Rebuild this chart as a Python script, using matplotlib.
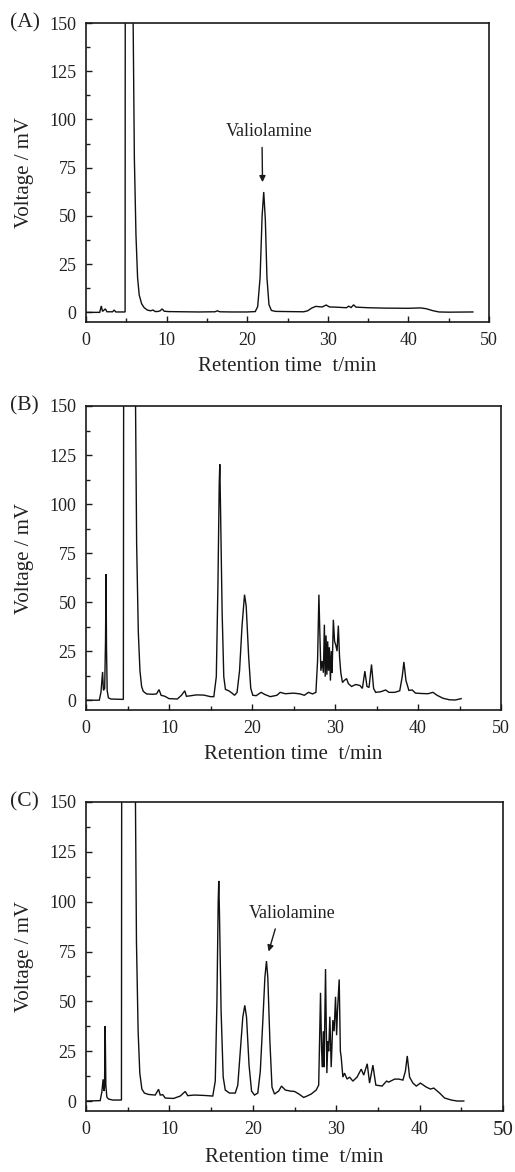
import matplotlib
matplotlib.use("Agg")
import matplotlib.pyplot as plt
from matplotlib.ticker import MultipleLocator

plt.rcParams['font.family'] = ['Liberation Serif', 'DejaVu Serif']

# Panel A chromatogram (time in min, voltage in mV); 400 marks off-scale solvent peak
tA = [0, 1.7, 1.9, 2.05, 2.4, 2.6, 3.3, 3.5, 3.7, 4.85, 4.9, 5.8, 5.85, 6.0, 6.2, 6.4, 6.6, 6.9,
      7.2, 7.6, 8.0, 8.3, 8.6, 9.0, 9.2, 9.45, 9.7, 10.2, 12, 14, 16, 16.3, 16.6, 18, 20, 21.0,
      21.3, 21.6, 21.85, 22.05, 22.25, 22.45, 22.7, 23, 23.5, 25, 27, 27.5, 28, 28.5, 29.3, 29.8,
      30.2, 31, 32.3, 32.6, 32.9, 33.2, 33.5, 35, 37, 40, 41.5, 42.2, 43, 43.8, 45, 48]
vA = [0, 0, 3.3, 0.5, 1.8, 0.3, 0.3, 1.2, 0.2, 0.2, 400, 400, 150, 80, 40, 18, 9, 4.5,
      2.5, 1.2, 0.8, 1.2, 0.4, 0.5, 0.8, 1.8, 0.6, 0.4, 0.3, 0.2, 0.3, 0.8, 0.3, 0.2, 0.2, 0.4,
      3, 18, 50, 62.4, 48, 18, 4, 1, 0.5, 0.4, 0.3, 0.8, 2.2, 3.1, 2.8, 3.8,
      2.8, 2.7, 2.4, 3.2, 2.5, 3.9, 2.7, 2.4, 2.2, 2.1, 2.3, 1.9, 0.9, 0.2, 0.1, 0.2]

# Panel B chromatogram
tB = [0, 1.6, 1.8, 2.0, 2.1, 2.25, 2.35, 2.42, 2.47, 2.55, 2.7, 3.0, 4.5, 4.59, 5.92, 5.97,
      6.1, 6.3, 6.5, 6.7, 6.9, 7.3, 8.0, 8.5, 8.8, 9.05, 9.5, 10, 11, 11.5, 11.9, 12.1, 12.5,
      13.3, 14.2, 15.0, 15.4, 15.7, 15.9, 16.05, 16.12, 16.2, 16.4, 16.6, 16.8, 17.2, 17.6,
      17.9, 18.2, 18.5, 18.8, 19.1, 19.3, 19.6, 19.85, 20.1, 20.5, 21.1, 21.5, 22.2, 23.0,
      23.4, 24.0, 25.0, 25.8, 26.3, 26.8, 27.3, 27.7, 27.9, 28.06, 28.2, 28.3, 28.45, 28.6,
      28.72, 28.82, 28.92, 29.02, 29.12, 29.22, 29.32, 29.45, 29.55, 29.65, 29.8, 29.95, 30.1,
      30.25, 30.4, 30.55, 30.7, 30.9, 31.1, 31.4, 31.6, 32.0, 32.5, 33.0, 33.3, 33.6, 33.85,
      34.1, 34.4, 34.65, 34.9, 35.5, 36.1, 36.5, 37.2, 37.8, 38.1, 38.3, 38.55, 38.9, 39.3,
      39.7, 40.5, 41.2, 41.8, 42.3, 43.0, 43.8, 44.5, 45.2]
vB = [0, 0, 4, 14.4, 5, 6, 30, 64.3, 27, 5, 1.2, 0.6, 0.4, 400, 400, 150,
      80, 35, 15, 7, 4.5, 3.2, 3, 3.2, 5.4, 2.5, 2, 0.8, 0.6, 2.5, 4.8, 2, 2.2,
      2.7, 2.6, 1.8, 1.8, 12, 60, 110, 120.3, 100, 45, 12, 5.5, 4.8, 3.6,
      2.5, 4, 15, 38, 53.8, 48, 22, 6, 2.5, 2.3, 4, 3, 1.8, 2.5,
      4, 3.3, 3.6, 3.2, 2.5, 4, 3.2, 4, 20, 53.8, 30, 15, 20, 14,
      38.5, 12, 33, 13, 30, 15, 27, 10, 25, 14, 41, 30, 28,
      25, 38, 22, 14, 9, 10, 11, 8.5, 7, 8, 7.5, 6, 14.8, 7,
      6.5, 18.2, 6, 4, 4.3, 5.2, 4, 4, 4.8, 12, 19.5, 10, 5, 5.2,
      3.6, 3.4, 3.3, 4, 2.5, 1, 0.2, 0.1, 0.8]

# Panel C chromatogram
tC = [0, 1.7, 1.9, 2.05, 2.15, 2.22, 2.3, 2.38, 2.5, 2.7, 3.2, 4.25, 4.32, 5.88, 5.93, 6.05,
      6.25, 6.45, 6.7, 7.0, 7.5, 8.3, 8.7, 8.9, 9.2, 9.5, 10.5, 11.3, 11.9, 12.2, 13, 14.2,
      15.2, 15.5, 15.7, 15.85, 15.92, 16.0, 16.2, 16.45, 16.7, 17.2, 17.9, 18.2, 18.5, 18.8,
      19.04, 19.25, 19.55, 19.85, 20.2, 20.6, 20.9, 21.2, 21.45, 21.64, 21.8, 22.05, 22.3,
      22.6, 23.1, 23.44, 23.9, 24.5, 25.0, 25.5, 26.1, 26.5, 27.0, 27.6, 27.9, 28.12, 28.25,
      28.35, 28.45, 28.55, 28.72, 28.88, 29.0, 29.1, 29.24, 29.4, 29.6, 29.75, 29.92, 30.05,
      30.15, 30.36, 30.5, 30.6, 30.8, 31.0, 31.3, 31.6, 32.0, 32.5, 33.0, 33.3, 33.72, 34.0,
      34.4, 34.75, 35.5, 36.04, 36.3, 37.0, 37.5, 38.0, 38.3, 38.52, 38.8, 39.2, 39.6, 40.1,
      40.8, 41.3, 41.7, 42.4, 43.0, 43.8, 44.5, 45.3]
vC = [0, 0.2, 4.5, 10.9, 5, 7, 37.6, 8, 2, 1, 0.5, 0.5, 400, 400, 150, 80,
      35, 14, 6, 4, 3.3, 3, 5.9, 3, 3.2, 1.5, 1.3, 2.5, 4.8, 2.7, 3, 2.8,
      2.5, 10, 50, 100, 110.4, 95, 45, 12, 5.5, 4, 4, 8, 25, 42,
      48, 42, 18, 5, 3, 4, 15, 40, 62, 70.2, 62, 30, 7,
      3.5, 5, 7.5, 5.5, 5, 4.8, 3.6, 1.8, 2.5, 3.5, 5.5, 8, 54.3, 25,
      17, 35, 17, 66.2, 14, 30, 25, 42.3, 17, 40.6, 35, 52.3, 33,
      45, 61, 25, 22, 12, 14, 11, 12, 10, 12, 16, 13, 18.7, 9,
      18, 8, 7.5, 10, 9.5, 11, 11, 10.5, 15, 22.6, 12, 9, 7.5, 9,
      7, 6, 6.5, 4, 1.5, 0.5, 0, 0]

panel_labels = ["(A)", "(B)", "(C)"]
x_label = "Retention time  t/min"
y_label = "Voltage / mV"
peak_name = "Valiolamine"
x_ticks = [0, 10, 20, 30, 40, 50]
y_ticks = [0, 25, 50, 75, 100, 125, 150]

W, H = 515, 1172
fig = plt.figure(figsize=(W / 100, H / 100), dpi=100)

# axes boxes in pixels: left, right, top, bottom
boxes = [(86, 489, 23, 322), (86, 501, 406, 710), (86, 503, 802, 1111)]
series = [(tA, vA), (tB, vB), (tC, vC)]

axes = []
for i, ((l, r, t, b), (tt, vv)) in enumerate(zip(boxes, series)):
    ax = fig.add_axes([l / W, 1 - b / H, (r - l) / W, (b - t) / H])
    ax.plot(tt, vv, color='#111111', lw=1.0, solid_joinstyle='miter')
    ax.set_xlim(0, 50)
    ax.set_ylim(-5, 150)
    ax.set_xticks(x_ticks)
    ax.set_yticks(y_ticks)
    ax.xaxis.set_minor_locator(MultipleLocator(5))
    ax.yaxis.set_minor_locator(MultipleLocator(12.5))
    ax.tick_params(which='both', direction='in', top=False, right=False, labelsize=13,
                   width=1.0, colors='#1a1a1a', labelcolor='#222222')
    ax.tick_params(which='major', length=4.5, pad=7)
    ax.tick_params(which='minor', length=3)
    for s in ax.spines.values():
        s.set_linewidth(1.2)
        s.set_color('#1a1a1a')
    ax.set_xlabel(x_label, fontsize=15, color='#222222', labelpad=6)
    ax.set_ylabel(y_label, fontsize=15, color='#222222', labelpad=11)
    fig.text(10 / W, 1 - t / H, panel_labels[i], fontsize=15.5, color='#222222',
             ha='left', va='center')
    axes.append(ax)

# the last x tick label of panel C is printed slightly larger in the original
axes[2].get_xticklabels()[-1].set_fontsize(15)

axes[0].annotate(peak_name, xy=(21.9, 67.5), xytext=(22.7, 93.5), ha='center', va='center',
                 fontsize=13, color='#222222',
                 arrowprops=dict(arrowstyle='-|>', color='#1a1a1a', lw=1.0,
                                 mutation_scale=9, shrinkA=3, shrinkB=0,
                                 relpos=(0.42, 0.0)))
axes[2].annotate(peak_name, xy=(21.9, 75), xytext=(24.7, 94), ha='center', va='center',
                 fontsize=13, color='#222222',
                 arrowprops=dict(arrowstyle='-|>', color='#1a1a1a', lw=1.0,
                                 mutation_scale=9, shrinkA=3, shrinkB=0,
                                 relpos=(0.33, 0.0)))

fig.savefig("out.png", dpi=100)
